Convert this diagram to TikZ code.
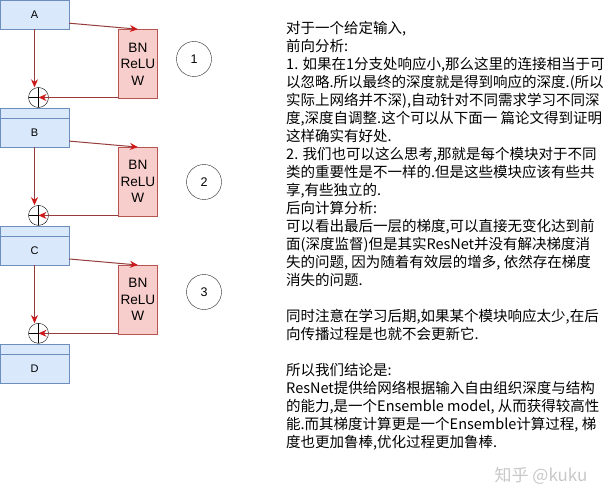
\documentclass[tikz,border=0pt]{standalone}
\usepackage{fontspec}
\setmainfont{Liberation Sans}
\newfontfamily\cjkfont{Noto Sans CJK SC}
\usepackage{tikz}
\usetikzlibrary{positioning}
\usetikzlibrary{arrows.meta}
\definecolor{layerfill}{RGB}{218,232,252}
\definecolor{layerline}{RGB}{108,142,191}
\definecolor{unitfill}{RGB}{248,206,204}
\definecolor{unitline}{RGB}{184,84,80}
\definecolor{linkred}{RGB}{150,60,60}
\definecolor{headred}{RGB}{205,25,25}
\definecolor{markgray}{RGB}{200,200,200}
\tikzset{layer node/.style={rectangle,draw=layerline,fill=layerfill,minimum width=69pt,minimum height=39pt,inner sep=0pt,text height=29pt,text depth=10pt,font=\fontsize{11}{13}\selectfont,
    path picture={\draw[layerline] ([yshift=-10pt]path picture bounding box.north west) -- ([yshift=-10pt]path picture bounding box.north east);}},
  unit node/.style={rectangle,draw=unitline,fill=unitfill,minimum width=39pt,minimum height=69pt,inner sep=0pt,align=center,font=\fontsize{13.6}{16.5}\selectfont},
  sum node/.style={circle,draw=black,fill=white,minimum size=20pt,inner sep=0pt,
    path picture={\draw[black] (path picture bounding box.north) -- (path picture bounding box.south) (path picture bounding box.west) -- (path picture bounding box.east);}},
  stage node/.style={circle,draw=black!85,minimum size=35pt,inner sep=0pt,font=\fontsize{12.5}{14}\selectfont},
  notes node/.style={anchor=north west,inner sep=0pt,align=left,font=\cjkfont\fontsize{14.5}{18}\selectfont},
  link/.style={draw=linkred,line width=1pt,->},
}

\begin{document}
\begin{tikzpicture}[x=1pt, y=1pt, >={Stealth[length=8pt,width=7pt,color=headred]}]
	\useasboundingbox (0,0) rectangle (608,-500);
	\node[layer node] (a) at (34.5,-9.5) {A};
	\node[layer node] (b) [below=78.5pt of a] {B};
	\node[layer node] (c) [below=78.5pt of b] {C};
	\node[layer node] (d) [below=78.5pt of c] {D};
	\node[unit node] (u1) [below right=0pt and 49pt of a.south east] {BN\\ReLU\\W};
	\node[unit node] (u2) [below right=0pt and 49pt of b.south east] {BN\\ReLU\\W};
	\node[unit node] (u3) [below right=0pt and 49pt of c.south east] {BN\\ReLU\\W};
	\node[sum node] (s1) [above=0pt of b.north, xshift=4pt] {};
	\node[sum node] (s2) [above=0pt of c.north, xshift=4pt] {};
	\node[sum node] (s3) [above=0pt of d.north, xshift=4pt] {};
	\node[stage node] (n1) at (194,-59) {1};
	\node[stage node] (n2) at (204,-182) {2};
	\node[stage node] (n3) at (204,-292) {3};

	% branch into the unit, straight path down, back into the sum
	\draw[link] ([yshift=6pt]a.south east) -- (u1.north);
	\draw[link] ([yshift=6pt]b.south east) -- (u2.north);
	\draw[link] ([yshift=6pt]c.south east) -- (u3.north);
	\draw[link] (a.south) -- (a.south |- s1.north);
	\draw[link] (b.south) -- (b.south |- s2.north);
	\draw[link] (c.south) -- (c.south |- s3.north);
	\draw[link] (u1.south west |- s1.center) -- (s1.center);
	\draw[link] (u2.south west |- s2.center) -- (s2.center);
	\draw[link] (u3.south west |- s3.center) -- (s3.center);

	\node[notes node] (txt) at (286,-21) {对于一个给定输入,\\
		前向分析:\\
		1. 如果在1分支处响应小,那么这里的连接相当于可\\
		以忽略.所以最终的深度就是得到响应的深度.(所以\\
		实际上网络并不深),自动针对不同需求学习不同深\\
		度,深度自调整.这个可以从下面一 篇论文得到证明\\
		这样确实有好处.\\
		2. 我们也可以这么思考,那就是每个模块对于不同\\
		类的重要性是不一样的.但是这些模块应该有些共\\
		享,有些独立的.\\
		后向计算分析:\\
		可以看出最后一层的梯度,可以直接无变化达到前\\
		面(深度监督)但是其实ResNet并没有解决梯度消\\
		失的问题, 因为随着有效层的增多, 依然存在梯度\\
		消失的问题.\\[18pt]
		同时注意在学习后期,如果某个模块响应太少,在后\\
		向传播过程是也就不会更新它.\\[18pt]
		所以我们结论是:\\
		ResNet提供给网络根据输入自由组织深度与结构\\
		的能力,是一个Ensemble model, 从而获得较高性\\
		能.而其梯度计算更是一个Ensemble计算过程, 梯\\
		度也更加鲁棒,优化过程更加鲁棒.};
	\node[text=markgray, font=\cjkfont\fontsize{17}{20}\selectfont] (wm) at (541,-476) {知乎 @kuku};
\end{tikzpicture}
\end{document}
